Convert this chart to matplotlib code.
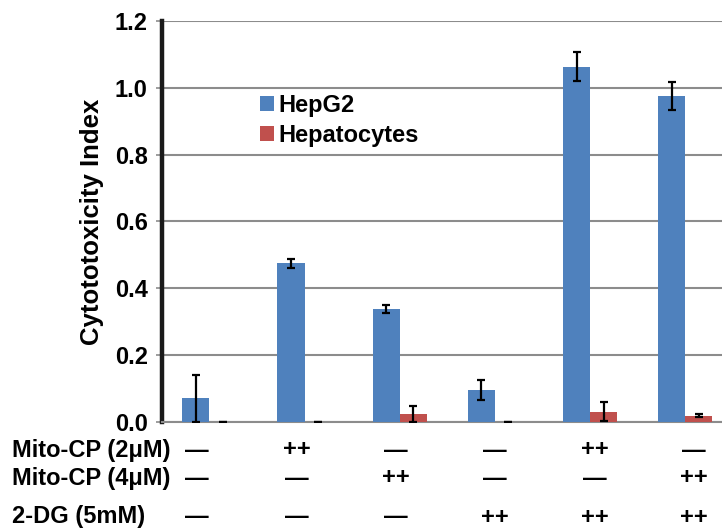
import matplotlib
matplotlib.use("Agg")
import matplotlib.pyplot as plt
import numpy as np

plt.rcParams['font.family'] = ['Liberation Sans', 'DejaVu Sans']
plt.rcParams['font.weight'] = 'bold'

series = ["HepG2", "Hepatocytes"]
hepg2 = [0.071, 0.475, 0.339, 0.096, 1.063, 0.975]
hepg2_err = [0.070, 0.013, 0.012, 0.030, 0.043, 0.042]
hepatocytes = [0.0, 0.0, 0.024, 0.0, 0.031, 0.019]
hepatocytes_err = [0.001, 0.001, 0.025, 0.001, 0.029, 0.005]
row_labels = ["Mito-CP (2\u03bcM)", "Mito-CP (4\u03bcM)", "2-DG (5mM)"]
row_mito2 = ["\u2014", "++", "\u2014", "\u2014", "++", "\u2014"]
row_mito4 = ["\u2014", "\u2014", "++", "\u2014", "\u2014", "++"]
row_2dg = ["\u2014", "\u2014", "\u2014", "++", "++", "++"]
yticks = [0.0, 0.2, 0.4, 0.6, 0.8, 1.0, 1.2]

W, H = 722, 529
fig = plt.figure(figsize=(W / 100, H / 100), dpi=100)
ax = fig.add_axes([161.7 / W, 107 / H, 571.3 / W, 401 / H])

x = np.arange(len(hepg2))
bw = 0.284
blue = "#4F81BD"
red = "#C0504D"
ekw = dict(ecolor="black", elinewidth=1.6, capsize=3, capthick=1.6)
ax.bar(x - bw / 2, hepg2, bw, color=blue, yerr=hepg2_err, error_kw=ekw,
       label=series[0], zorder=3)
ax.bar(x + bw / 2, hepatocytes, bw, color=red, yerr=hepatocytes_err,
       error_kw=ekw, label=series[1], zorder=3)

ax.set_xlim(-0.5, 5.5)
ax.set_ylim(0, 1.2)
ax.set_yticks(yticks)
ax.set_yticklabels([f"{v:.1f}" for v in yticks], fontsize=17, fontweight="bold")
ax.set_xticks([])
ax.yaxis.grid(True, color="#8c8c8c", linewidth=1.5, zorder=0)
ax.set_axisbelow(True)
for s in ["top", "right"]:
    ax.spines[s].set_visible(False)
ax.spines["bottom"].set_color("#8c8c8c")
ax.spines["bottom"].set_linewidth(1.5)
ax.spines["left"].set_color("#1a1a1a")
ax.spines["left"].set_linewidth(3.2)
ax.tick_params(axis="y", length=4.5, width=1.2, color="#8c8c8c", pad=5.5)

fig.text(92 / W, 1 - 222 / H, "Cytototoxicity Index", fontsize=18.5,
         fontweight="bold", rotation=90, ha="center", va="center")

leg = ax.legend(loc="upper left", bbox_to_anchor=(248 / W, 1 - 82 / H),
                bbox_transform=fig.transFigure, frameon=False, borderpad=0,
                prop=dict(size=17, weight="bold"), handlelength=0.6,
                handleheight=0.6, handletextpad=0.2, labelspacing=0.3)

rows = [row_mito2, row_mito4, row_2dg]
row_y = [450, 478, 517]
col_x0, col_dx = 197, 99.4
for lab, vals, yy in zip(row_labels, rows, row_y):
    fig.text(12 / W, 1 - yy / H, lab, fontsize=17, fontweight="bold",
             ha="left", va="center")
    for i, v in enumerate(vals):
        fig.text((col_x0 + col_dx * i) / W, 1 - yy / H, v, fontsize=17,
                 fontweight="bold", ha="center", va="center")

fig.savefig("out.png", dpi=100)
